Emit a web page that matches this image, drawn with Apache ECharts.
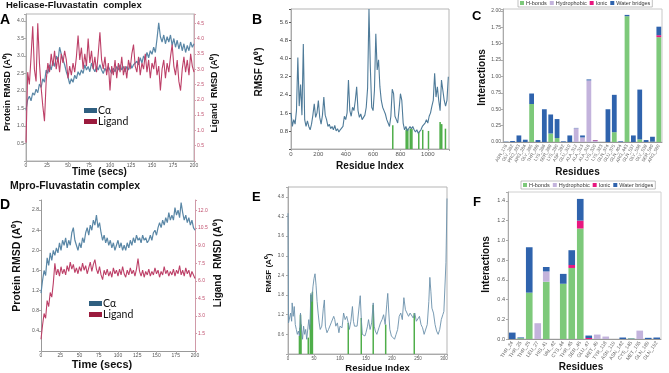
<!DOCTYPE html>
<html><head><meta charset="utf-8">
<script src="https://cdn.jsdelivr.net/npm/echarts@6/dist/echarts.min.js"></script>
<style>html,body{margin:0;padding:0;background:#fff}#c{width:669px;height:373px}</style>
</head><body><div id="c"></div>
<script>
// ---------- DATA ----------
const timeSteps = [0,2,4,6,8,10,12,14,16,18,20,22,24,26,28,30,32,34,36,38,40,42,44,46,48,50,52,54,56,58,60,62,64,66,68,70,72,74,76,78,80,82,84,86,88,90,92,94,96,98,100,102,104,106,108,110,112,114,116,118,120,122,124,126,128,130,132,134,136,138,140,142,144,146,148,150,152,154,156,158,160,162,164,166,168,170,172,174,176,178,180,182,184,186,188,190,192,194,196,198,200];
const timeTicks = [0,25,50,75,100,125,150,175,200];

const aProtein = [1.45,1.75,1.85,1.72,1.95,1.88,2.05,1.95,2.2,2.1,
2.35,2.25,2.6,2.5,2.75,2.6,2.85,2.7,3.0,2.85,
3.25,3.05,2.9,2.75,2.55,2.4,2.2,2.35,2.25,2.45,
2.35,2.55,2.45,2.6,2.5,2.75,2.6,2.7,2.55,2.8,
2.65,2.55,2.7,2.6,2.75,2.6,2.5,2.65,2.55,2.7,
2.6,2.5,2.65,2.55,2.7,2.6,2.75,2.6,2.7,2.55,
2.7,2.6,2.8,2.65,2.75,2.7,2.85,2.75,2.95,2.8,
3.0,2.9,3.1,2.95,3.15,3.05,3.25,3.1,3.5,3.95,
3.55,3.4,3.6,3.35,3.55,3.4,3.6,3.3,3.5,3.25,
3.45,3.2,3.4,3.15,3.35,3.1,3.3,3.15,3.4,3.25,3.35];
const aLigand = [0.6,2.9,2.5,3.4,4.4,3.0,2.6,4.5,3.2,2.4,
1.8,1.3,2.6,3.2,2.9,3.5,3.1,3.6,3.0,3.4,
2.9,3.5,3.2,3.6,3.3,2.7,3.1,2.8,3.2,2.9,
3.4,4.1,3.3,3.7,3.0,3.5,3.1,4.0,3.2,3.6,
3.0,3.4,2.9,3.5,4.2,3.3,3.0,3.4,2.8,3.2,
2.3,3.1,2.8,3.3,2.7,3.2,2.9,3.4,2.8,3.1,
2.7,3.3,3.0,3.5,3.8,3.1,2.9,3.4,2.8,3.2,
3.0,3.5,2.9,3.3,2.7,3.2,3.0,3.4,2.8,3.1,
2.3,3.0,3.3,2.7,3.2,2.9,3.4,3.8,3.1,2.8,
3.3,2.6,2.3,3.0,3.4,2.9,3.3,2.8,3.5,3.1,2.9];

const dProtein = [1.15,1.4,1.6,1.5,1.85,1.7,1.95,1.8,2.0,1.9,
2.05,1.95,2.15,2.0,2.2,2.1,2.25,2.05,2.2,2.1,
2.35,2.45,2.2,2.1,2.0,2.15,2.05,2.25,2.15,2.35,
2.45,2.3,2.5,2.4,2.6,2.5,2.7,2.45,2.55,2.35,
2.2,2.3,2.15,2.25,2.1,2.2,2.05,2.15,2.0,2.1,
2.2,2.05,2.15,2.0,2.1,2.0,2.15,2.05,2.2,2.1,
2.25,2.15,2.3,2.2,2.25,2.15,2.3,2.2,2.25,2.15,
2.2,2.3,2.2,2.35,2.4,2.3,2.45,2.55,2.45,2.6,
2.5,2.65,2.55,2.75,2.6,2.7,2.6,2.85,2.7,2.8,
2.65,2.95,2.75,2.6,2.7,2.55,2.65,2.5,2.6,2.45,2.4];
const dLigand = [1.0,2.2,3.2,2.8,4.3,3.8,5.0,4.6,5.8,7.5,
6.5,7.0,6.4,7.2,6.6,7.0,6.5,7.3,6.8,7.6,
7.0,7.4,6.7,7.1,6.6,7.2,6.8,7.5,6.9,7.3,
6.6,7.1,7.6,6.8,7.4,7.8,7.0,6.6,7.2,6.5,
6.1,6.9,6.5,7.0,6.4,6.8,6.3,7.1,6.6,6.9,
6.4,7.0,6.5,7.2,6.6,6.3,6.9,6.5,7.1,6.6,
6.9,6.4,7.0,7.9,6.8,6.4,6.9,6.3,6.8,6.5,
7.0,6.4,6.8,6.5,7.1,6.6,6.9,6.3,6.8,6.5,
7.2,6.6,6.9,6.4,6.8,6.5,7.0,6.4,6.9,6.6,
7.3,6.5,6.9,6.4,7.1,6.6,6.9,6.3,6.8,6.5,6.2];

const bResidue = [0,10,20,30,40,50,60,70,80,90,100,110,120,130,140,150,160,170,180,190,200,210,220,230,240,250,260,270,280,290,300,310,320,330,340,350,360,370,380,390,400,410,420,430,440,450,460,470,480,490,500,510,520,530,540,550,560,570,580,590,600,610,620,630,640,650,660,670,680,690,700,710,720,730,740,750,760,770,780,790,800,810,820,830,840,850,860,870,880,890,900,910,920,930,940,950,960,970,980,990,1000,1010,1020,1030,1040,1050,1060,1070,1080,1090,1100,1110,1120,1130,1140,1150];
const bRmsf = [1.6,1.0,1.3,1.1,1.7,4.05,1.9,2.85,1.5,4.65,
1.3,1.0,1.25,1.0,0.85,1.1,1.5,2.0,1.4,1.6,
2.15,1.4,1.1,1.5,2.3,1.5,1.3,1.0,1.1,0.9,
1.0,0.85,1.05,0.8,0.9,0.75,0.85,0.8,1.0,1.45,
1.3,1.6,3.05,1.7,1.45,1.85,1.7,2.15,2.75,1.7,
1.4,1.55,1.3,1.4,1.5,1.85,2.7,6.2,3.6,1.85,
1.7,2.6,5.1,3.5,3.95,2.75,2.15,1.85,1.7,1.55,
1.3,1.15,1.0,1.45,2.65,2.45,1.45,1.3,1.15,1.75,
2.45,2.15,1.15,0.85,1.0,0.8,0.85,1.0,0.9,1.0,
0.85,0.75,0.85,0.7,0.75,0.85,1.0,0.95,1.15,1.3,
1.15,1.45,1.6,1.9,2.15,3.35,2.3,2.75,2.15,1.7,
3.05,2.6,2.15,1.9,2.15,3.2];
const bContactRes = [744,842,848,854,872,878,884,934,963,1005,1090,1096,1102,1129];
const bContactVal = [1.05,0.85,0.9,0.85,0.9,0.85,0.9,0.75,0.85,0.8,1.2,1.1,1.1,0.9];

const eResidue = [0,1,3,5,7,8,10,12,14,16,18,20,22,24,26,28,30,32,34,36,38,40,42,44,46,48,50,52,54,56,58,60,62,65,68,70,72,75,78,80,83,85,88,90,92,95,98,100,102,104,107,110,113,116,118,121,124,126,128,130,133,136,139,141,143,145,148,150,153,155,158,161,164,166,168,171,175,178,181,184,187,190,192,194,196,199,202,205,208,211,214,217,220,223,226,229,232,235,238,241,244,247,250,253,256,259,262,265,268,271,273,275,277,280,283,286,289,292,295,298,300,302,304,306];
const eRmsf = [4.3,0.95,1.0,1.25,1.0,1.56,1.15,1.45,0.9,0.75,0.6,0.7,0.55,1.25,0.75,0.45,0.85,0.6,0.75,0.45,0.5,1.05,0.75,1.85,1.6,2.05,2.3,2.45,2.1,1.6,1.25,0.95,0.75,0.85,1.4,1.65,0.85,0.65,0.75,0.7,0.95,0.9,1.15,1.05,0.85,0.95,0.65,0.85,0.9,0.8,1.25,1.05,1.15,0.95,0.75,1.0,1.45,1.0,0.85,0.8,0.85,0.9,1.78,1.1,0.6,0.55,0.55,0.65,0.85,1.05,0.75,0.95,1.56,0.85,0.7,0.6,0.8,0.95,1.05,1.2,0.9,1.5,1.85,1.25,0.75,0.55,0.5,0.45,0.6,0.75,1.15,1.25,1.05,1.72,1.35,1.3,1.15,1.25,1.3,1.1,1.25,1.0,1.05,1.15,0.9,0.8,0.6,0.65,0.9,1.6,2.34,1.9,1.4,1.25,0.9,0.7,0.6,0.75,1.05,1.2,1.3,1.25,2.8,4.75];
const eContactRes = [22,23,24,25,39,43,44,45,46,47,116,141,164,188,243];
const eContactVal = [0.55,0.8,1.2,0.9,0.5,0.9,1.8,1.7,1.6,1.9,0.95,1.1,1.5,0.9,1.25];

const cResidues = ["ASN_178","GLY_282","PRO_283","ARG_284","GLY_285","THR_286","LYS_288","SER_289","LYS_290","ASP_292","GLU_310","ALA_312","ALA_313","ALA_316","LYS_320","LYS_323","GLN_374","GLU_375","GLN_404","ARG_443","GLN_537","GLY_538","GLY_539","SER_540","ARG_560"];
const cHbonds      = [0,0,0,0,0.58,0,0,0.13,0.06,0,0,0,0,0,0,0,0,0.15,0,1.92,0,0.04,0,0.005,1.6];
const cHydrophobic = [0,0,0,0,0,0,0,0,0,0,0,0.21,0.07,0.94,0.015,0,0,0,0,0,0,0,0,0,0];
const cIonic       = [0,0,0,0,0,0,0,0,0,0,0,0,0,0,0.01,0,0,0,0,0,0,0,0,0,0.03];
const cWater       = [0.005,0.015,0.1,0.035,0.16,0.03,0.5,0.29,0.29,0.01,0.1,0.005,0.03,0.015,0.005,0,0.5,0.57,0.01,0.02,0.1,0.76,0.03,0.075,0.13];

const fResidues = ["THR_24","THR_25","THR_26","LEU_27","HIS_41","VAL_42","CYS_44","THR_45","SER_46","GLU_47","MET_49","TYR_118","ASN_119","ASN_142","CYS_145","MET_165","GLN_189","GLN_192"];
const fHbonds      = [0,0.008,0.47,0,0.58,0,0.56,0.72,1.12,0,0,0,0,0,0.005,0,0,0];
const fHydrophobic = [0,0,0,0.16,0.105,0,0,0,0,0,0.045,0.025,0,0,0,0.085,0,0];
const fIonic       = [0,0,0,0,0,0,0,0.03,0.08,0.01,0,0,0,0,0,0,0,0];
const fWater       = [0.065,0.008,0.46,0,0.045,0,0.1,0.15,0.22,0.025,0,0,0,0.015,0.003,0,0.012,0.015];

// ---------- CHART ----------
const chart = echarts.init(document.getElementById('c'), null, {renderer:'canvas'});
const zip = (a,b) => a.map((v,i)=>[v,b[i]]);
const fmt = (dec, lo, hi) => v => (v < lo-1e-9 || v > hi+1e-9) ? '' : v.toFixed(dec);
const FF = 'Liberation Sans';
const BLUE_LINE = '#5a87a6', BLUE_DARK = '#2f5f80', RED_LINE = '#bd4068', RED_DARK = '#9b1b3d';
const C_H = '#7dc97a', C_P = '#c3b3dc', C_I = '#e8177f', C_W = '#2f63ad';

function valAxis(o){
  return Object.assign({
    type:'value', splitLine:{show:false},
    axisLine:{show:true, onZero:false, lineStyle:{color:'#aaa', width:1}},
    axisTick:{show:true, length:2, lineStyle:{color:'#aaa'}},
    axisLabel:{fontSize:5, color:'#555', margin:2, fontFamily:FF}
  }, o);
}
function lab(o){ return Object.assign({fontSize:5, color:'#555', margin:2, fontFamily:FF}, o); }
const barLegend = (left, top) => ({left, top, icon:'rect', itemWidth:4, itemHeight:4, itemGap:3, padding:[1,2,1,2],
  borderColor:'#999', borderWidth:0.6,
  data:['H-bonds','Hydrophobic','Ionic','Water bridges'],
  textStyle:{fontSize:5.5, fontFamily:FF, color:'#333', padding:[0,0,0,-3]}});
const lineLegend = (left, top) => ({left, top, orient:'vertical', icon:'rect', itemWidth:13, itemHeight:5, itemGap:0, padding:0,
  data:['Cα','Ligand'], textStyle:{fontSize:10.5, lineHeight:10, fontFamily:'Lato', color:'#111', padding:[0,0,0,-4]}});

const gridBox = {show:true, borderColor:'#b5b5b5', borderWidth:1, backgroundColor:'transparent'};
const option = {
  animation:false,
  backgroundColor:'#fff',
  grid:[
    Object.assign({left:26, top:14, width:168, height:147}, gridBox),   // A
    Object.assign({left:291, top:9, width:158, height:140}, gridBox),   // B
    Object.assign({left:503, top:9, width:159, height:133}, gridBox, {borderColor:'#c8c8c8'}),   // C
    {left:41, top:200, width:154, height:151},                           // D
    Object.assign({left:288, top:187, width:159, height:167}, gridBox), // E
    Object.assign({left:508, top:192, width:153, height:147}, gridBox, {borderColor:'#d0d0d0'})  // F
  ],
  xAxis:[
    valAxis({gridIndex:0, min:0, max:200, interval:25, axisLabel:lab({})}),
    valAxis({gridIndex:1, min:0, max:1155, interval:200, axisLabel:lab({fontSize:6, formatter:fmt(0,0,1000)})}),
    {type:'category', gridIndex:2, data:cResidues, axisLine:{lineStyle:{color:'#999'}}, axisTick:{show:false},
      axisLabel:lab({fontSize:4.5, color:'#666', rotate:60, interval:0, margin:3})},
    valAxis({gridIndex:3, min:0, max:200, interval:25, axisLabel:lab({}), axisLine:{show:true,onZero:false,lineStyle:{color:'#999'}}}),
    valAxis({gridIndex:4, min:0, max:306, interval:50, axisLabel:lab({fontSize:4.5, formatter:fmt(0,0,300)})}),
    {type:'category', gridIndex:5, data:fResidues, axisLine:{lineStyle:{color:'#999'}}, axisTick:{show:false},
      axisLabel:lab({fontSize:5, color:'#666', rotate:55, interval:0, margin:3})}
  ],
  yAxis:[
    valAxis({gridIndex:0, min:0, max:4.2, interval:0.5, axisLabel:lab({formatter:fmt(1,0.5,4.0)})}),
    valAxis({gridIndex:0, position:'right', min:0, max:4.8, interval:0.5,
      axisLine:{show:true,onZero:false,lineStyle:{color:'#cfa3ae'}}, axisTick:{show:true,length:2,lineStyle:{color:'#cfa3ae'}},
      axisLabel:lab({color:'#c0506e', margin:3, formatter:fmt(1,0.5,4.5)})}),
    valAxis({gridIndex:1, min:0, max:6.2, interval:0.8, axisLabel:lab({fontSize:6, color:'#444', margin:3, formatter:fmt(1,0.8,5.6)}),
      axisTick:{show:true,length:2,lineStyle:{color:'#555'}}}),
    valAxis({gridIndex:2, min:0, max:2.03, interval:0.25, axisLabel:lab({formatter:fmt(2,0,2.0)})}),
    valAxis({gridIndex:3, min:0, max:3.0, interval:0.4, axisLine:{show:true,onZero:false,lineStyle:{color:'#999'}},
      axisLabel:lab({formatter:fmt(1,0.4,2.8)})}),
    valAxis({gridIndex:3, position:'right', min:0, max:12.9, interval:1.5,
      axisLine:{show:true,onZero:false,lineStyle:{color:'#d09aa8'}}, axisTick:{show:true,length:2,lineStyle:{color:'#d09aa8'}},
      axisLabel:lab({color:'#c0506e', margin:3, formatter:fmt(1,1.5,12.0)})}),
    valAxis({gridIndex:4, min:0, max:5.1, interval:0.6, axisLabel:lab({fontSize:4.5, margin:4, formatter:fmt(1,0.6,4.8)})}),
    valAxis({gridIndex:5, min:0, max:1.49, interval:0.2, axisLabel:lab({fontSize:5.5, margin:3, formatter:fmt(1,0,1.4)})})
  ],
  legend:[ lineLegend(84,105), lineLegend(89,298), barLegend(518,-1), barLegend(521,181) ],
  series:[
    {name:'Cα', type:'line', xAxisIndex:0, yAxisIndex:0, data:zip(timeSteps,aProtein), showSymbol:false,
      lineStyle:{color:BLUE_LINE, width:1.2}, itemStyle:{color:BLUE_DARK}},
    {name:'Ligand', type:'line', xAxisIndex:0, yAxisIndex:1, data:zip(timeSteps,aLigand), showSymbol:false,
      lineStyle:{color:RED_LINE, width:1.1}, itemStyle:{color:RED_DARK}},
    {name:'RMSF B', type:'line', xAxisIndex:1, yAxisIndex:2, data:zip(bResidue,bRmsf), showSymbol:false,
      lineStyle:{color:'#4f7b99', width:1.1}, itemStyle:{color:'#4f7b99'}},
    {name:'Contacts B', type:'bar', xAxisIndex:1, yAxisIndex:2, data:zip(bContactRes,bContactVal), barWidth:1.5,
      itemStyle:{color:'#4fae4a'}},
    {name:'H-bonds', type:'bar', stack:'c', xAxisIndex:2, yAxisIndex:3, data:cHbonds, barCategoryGap:'25%', itemStyle:{color:C_H}},
    {name:'Hydrophobic', type:'bar', stack:'c', xAxisIndex:2, yAxisIndex:3, data:cHydrophobic, itemStyle:{color:C_P}},
    {name:'Ionic', type:'bar', stack:'c', xAxisIndex:2, yAxisIndex:3, data:cIonic, itemStyle:{color:C_I}},
    {name:'Water bridges', type:'bar', stack:'c', xAxisIndex:2, yAxisIndex:3, data:cWater, itemStyle:{color:C_W}},
    {name:'Cα', type:'line', xAxisIndex:3, yAxisIndex:4, data:zip(timeSteps,dProtein), showSymbol:false,
      lineStyle:{color:BLUE_LINE, width:1.2}, itemStyle:{color:BLUE_DARK}},
    {name:'Ligand', type:'line', xAxisIndex:3, yAxisIndex:5, data:zip(timeSteps,dLigand), showSymbol:false,
      lineStyle:{color:RED_LINE, width:1.1}, itemStyle:{color:RED_DARK}},
    {name:'RMSF E', type:'line', xAxisIndex:4, yAxisIndex:6, data:zip(eResidue,eRmsf), showSymbol:false,
      lineStyle:{color:'#6a90aa', width:0.9}, itemStyle:{color:'#6a90aa'}},
    {name:'Contacts E', type:'bar', xAxisIndex:4, yAxisIndex:6, data:zip(eContactRes,eContactVal), barWidth:1.5,
      itemStyle:{color:'#4fae4a'}},
    {name:'H-bonds', type:'bar', stack:'f', xAxisIndex:5, yAxisIndex:7, data:fHbonds, barCategoryGap:'22%', itemStyle:{color:C_H}},
    {name:'Hydrophobic', type:'bar', stack:'f', xAxisIndex:5, yAxisIndex:7, data:fHydrophobic, itemStyle:{color:C_P}},
    {name:'Ionic', type:'bar', stack:'f', xAxisIndex:5, yAxisIndex:7, data:fIonic, itemStyle:{color:C_I}},
    {name:'Water bridges', type:'bar', stack:'f', xAxisIndex:5, yAxisIndex:7, data:fWater, itemStyle:{color:C_W}}
  ],
  graphic:[
    {type:'text', x:6, y:5, style:{text:'Helicase-Fluvastatin  complex', font:'bold 9.5px "Liberation Sans"', fill:'#111', verticalAlign:'middle'}},
    {type:'text', x:10, y:186, style:{text:'Mpro-Fluvastatin complex', font:'bold 10.5px "Liberation Sans"', fill:'#111', verticalAlign:'middle'}},
    {type:'text', x:0, y:20, style:{text:'A', font:'bold 14px "Liberation Sans"', fill:'#000', verticalAlign:'middle'}},
    {type:'text', x:252, y:20, style:{text:'B', font:'bold 14px "Liberation Sans"', fill:'#000', verticalAlign:'middle'}},
    {type:'text', x:472, y:16, style:{text:'C', font:'bold 13px "Liberation Sans"', fill:'#000', verticalAlign:'middle'}},
    {type:'text', x:0, y:205, style:{text:'D', font:'bold 14px "Liberation Sans"', fill:'#000', verticalAlign:'middle'}},
    {type:'text', x:252, y:197, style:{text:'E', font:'bold 13px "Liberation Sans"', fill:'#000', verticalAlign:'middle'}},
    {type:'text', x:473, y:202, style:{text:'F', font:'bold 13px "Liberation Sans"', fill:'#000', verticalAlign:'middle'}},
    {type:'text', x:7.5, y:92, rotation:Math.PI/2, style:{text:'Protein RMSD (A⁰)', font:'bold 9px "Liberation Sans"', fill:'#111', align:'center', verticalAlign:'middle'}},
    {type:'text', x:215, y:93, rotation:Math.PI/2, style:{text:'Ligand  RMSD (A⁰)', font:'bold 9px "Liberation Sans"', fill:'#111', align:'center', verticalAlign:'middle'}},
    {type:'text', x:99.5, y:172, style:{text:'Time (secs)', font:'bold 10px "Liberation Sans"', fill:'#111', align:'center', verticalAlign:'middle'}},
    {type:'text', x:17.5, y:266, rotation:Math.PI/2, style:{text:'Protein RMSD (A⁰)', font:'bold 10.5px "Liberation Sans"', fill:'#111', align:'center', verticalAlign:'middle'}},
    {type:'text', x:218, y:263, rotation:Math.PI/2, style:{text:'Ligand  RMSD (A⁰)', font:'bold 10px "Liberation Sans"', fill:'#111', align:'center', verticalAlign:'middle'}},
    {type:'text', x:102, y:365, style:{text:'Time (secs)', font:'bold 11px "Liberation Sans"', fill:'#111', align:'center', verticalAlign:'middle'}},
    {type:'text', x:259, y:72, rotation:Math.PI/2, style:{text:'RMSF (A⁰)', font:'bold 10px "Liberation Sans"', fill:'#111', align:'center', verticalAlign:'middle'}},
    {type:'text', x:370, y:166, style:{text:'Residue Index', font:'bold 10px "Liberation Sans"', fill:'#111', align:'center', verticalAlign:'middle'}},
    {type:'text', x:482, y:77.5, rotation:Math.PI/2, style:{text:'Interactions', font:'bold 10px "Liberation Sans"', fill:'#111', align:'center', verticalAlign:'middle'}},
    {type:'text', x:577.5, y:172, style:{text:'Residues', font:'bold 10px "Liberation Sans"', fill:'#111', align:'center', verticalAlign:'middle'}},
    {type:'text', x:268.5, y:273, rotation:Math.PI/2, style:{text:'RMSF (A⁰)', font:'bold 8px "Liberation Sans"', fill:'#111', align:'center', verticalAlign:'middle'}},
    {type:'text', x:377.5, y:368, style:{text:'Residue Index', font:'bold 9.5px "Liberation Sans"', fill:'#111', align:'center', verticalAlign:'middle'}},
    {type:'text', x:486, y:264.5, rotation:Math.PI/2, style:{text:'Interactions', font:'bold 10px "Liberation Sans"', fill:'#111', align:'center', verticalAlign:'middle'}},
    {type:'text', x:581, y:367.5, style:{text:'Residues', font:'bold 10px "Liberation Sans"', fill:'#111', align:'center', verticalAlign:'middle'}}
  ]
};
chart.setOption(option);
</script>
</body></html>
